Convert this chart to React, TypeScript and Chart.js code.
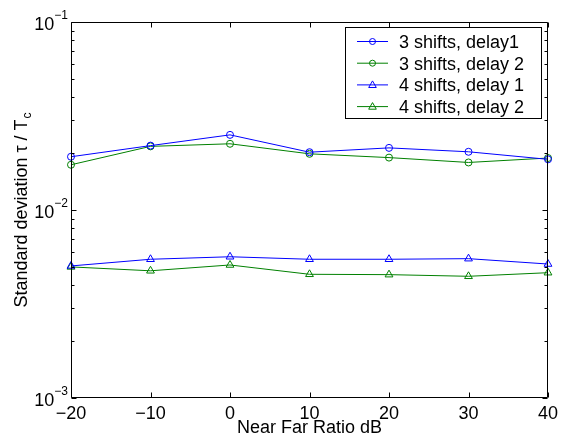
import React, { useEffect, useRef } from "react";
import { Chart, registerables } from "chart.js";

Chart.register(...registerables);

const xValues = [-20, -10, 0, 10, 20, 30, 40];
const shifts3Delay1 = [0.0192, 0.022, 0.0251, 0.0203, 0.0214, 0.0204, 0.0186];
const shifts3Delay2 = [0.0174, 0.0218, 0.0225, 0.0199, 0.019, 0.0179, 0.0189];
const shifts4Delay1 = [0.00504, 0.00547, 0.00564, 0.00547, 0.00547, 0.00551, 0.00516];
const shifts4Delay2 = [0.00498, 0.00475, 0.0051, 0.00455, 0.00453, 0.00444, 0.00464];
const seriesLabels = ["3 shifts, delay1", "3 shifts, delay 2", "4 shifts, delay 1", "4 shifts, delay 2"];
const xTicks = [-20, -10, 0, 10, 20, 30, 40];
const yDecades = [-3, -2, -1];
const xTitle = "Near Far Ratio dB";
const yTitleMain = "Standard deviation τ / T";
const yTitleSub = "c";

const BLUE = "#0000ff";
const GREEN = "#008000";
const FONT = '"Liberation Sans", Arial, Helvetica, sans-serif';

const fmtX = (v: number) => (v < 0 ? "\u2212" + Math.abs(v) : String(v));

function drawMarker(ctx: CanvasRenderingContext2D, style: string, x: number, y: number, r: number, color: string) {
  ctx.save();
  ctx.strokeStyle = color;
  ctx.lineWidth = 1;
  ctx.beginPath();
  if (style === "circle") {
    ctx.arc(x, y, r, 0, Math.PI * 2);
  } else {
    ctx.moveTo(x, y - r);
    ctx.lineTo(x + r * 0.95, y + r * 0.65);
    ctx.lineTo(x - r * 0.95, y + r * 0.65);
    ctx.closePath();
  }
  ctx.stroke();
  ctx.restore();
}

const axesPlugin = {
  id: "matlabAxes",
  afterDraw(chart: any) {
    const { ctx, chartArea } = chart;
    const { left, right, top, bottom } = chartArea;
    const xs = chart.scales.x;
    const ys = chart.scales.y;
    ctx.save();
    ctx.strokeStyle = "#000";
    ctx.lineWidth = 1;
    const L = Math.round(left) + 0.5;
    const R = Math.round(right) - 0.5;
    const T = Math.round(top) + 0.5;
    const B = Math.round(bottom) - 0.5;
    ctx.beginPath();
    ctx.rect(L, T, R - L, B - T);
    ctx.stroke();

    // x ticks
    ctx.beginPath();
    for (const v of xTicks) {
      const px = Math.round(xs.getPixelForValue(v)) + 0.5;
      ctx.moveTo(px, B);
      ctx.lineTo(px, B - 5);
      ctx.moveTo(px, T);
      ctx.lineTo(px, T + 5);
    }
    // y ticks (log)
    for (let i = 0; i < yDecades.length; i++) {
      const d = yDecades[i];
      const maxM = i === yDecades.length - 1 ? 1 : 9;
      for (let m = 1; m <= maxM; m++) {
        const val = m * Math.pow(10, d);
        const py = Math.round(ys.getPixelForValue(val)) + 0.5;
        const len = m === 1 ? 5 : 3;
        ctx.moveTo(L, py);
        ctx.lineTo(L + len, py);
        ctx.moveTo(R, py);
        ctx.lineTo(R - len, py);
      }
    }
    ctx.stroke();

    // x tick labels
    ctx.fillStyle = "#000";
    ctx.font = "18px " + FONT;
    ctx.textAlign = "center";
    ctx.textBaseline = "alphabetic";
    for (const v of xTicks) {
      const px = xs.getPixelForValue(v);
      ctx.fillText(fmtX(v), px, bottom + 21);
    }

    // y tick labels 10^d
    for (const d of yDecades) {
      const py = ys.getPixelForValue(Math.pow(10, d));
      const sup = "\u2212" + Math.abs(d);
      ctx.font = "12px " + FONT;
      const supW = ctx.measureText(sup).width;
      const rightEdge = left - 3;
      ctx.textAlign = "left";
      ctx.fillText(sup, rightEdge - supW, py - 3);
      ctx.font = "18px " + FONT;
      ctx.textAlign = "right";
      ctx.fillText("10", rightEdge - supW, py + 7.5);
    }

    // x title
    ctx.font = "18px " + FONT;
    ctx.textAlign = "center";
    ctx.fillText(xTitle, (left + right) / 2, bottom + 35);

    // y title
    ctx.save();
    ctx.translate(27, (top + bottom) / 2);
    ctx.rotate(-Math.PI / 2);
    ctx.font = "18px " + FONT;
    const wMain = ctx.measureText(yTitleMain).width;
    ctx.font = "12px " + FONT;
    const wSub = ctx.measureText(yTitleSub).width;
    const total = wMain + wSub + 1;
    ctx.textAlign = "left";
    ctx.font = "18px " + FONT;
    ctx.fillText(yTitleMain, -total / 2, 0);
    ctx.font = "12px " + FONT;
    ctx.fillText(yTitleSub, -total / 2 + wMain + 1, 4);
    ctx.restore();

    // legend
    const lx = 345.5, ly = 27.5, lw = 196, lh = 91;
    ctx.fillStyle = "#fff";
    ctx.fillRect(lx, ly, lw, lh);
    ctx.strokeStyle = "#000";
    ctx.strokeRect(lx, ly, lw, lh);
    const ds = chart.data.datasets;
    for (let i = 0; i < ds.length; i++) {
      const cy = 41.5 + i * 21.7;
      ctx.strokeStyle = ds[i].borderColor;
      ctx.beginPath();
      ctx.moveTo(357, cy);
      ctx.lineTo(388, cy);
      ctx.stroke();
      drawMarker(ctx, ds[i].pointStyle, 372.5, cy, ds[i].pointStyle === "circle" ? 3 : 4, ds[i].borderColor);
      ctx.fillStyle = "#000";
      ctx.font = "18px " + FONT;
      ctx.textAlign = "left";
      ctx.fillText(ds[i].label, 399, cy + 6.5);
    }
    ctx.restore();
  },
};

export default function App() {
  const ref = useRef<HTMLCanvasElement | null>(null);
  useEffect(() => {
    if (!ref.current) return;
    const mk = (label: string, vals: number[], color: string, style: string) => ({
      label,
      data: xValues.map((x, i) => ({ x, y: vals[i] })),
      borderColor: color,
      backgroundColor: "transparent",
      borderWidth: 1,
      pointStyle: style,
      pointRadius: style === "circle" ? 3.5 : 4.5,
      pointBorderColor: color,
      pointBackgroundColor: "transparent",
      pointBorderWidth: 1,
      tension: 0,
      clip: false as any,
    });
    const chart = new Chart(ref.current, {
      type: "line",
      data: {
        datasets: [
          mk(seriesLabels[0], shifts3Delay1, BLUE, "circle"),
          mk(seriesLabels[1], shifts3Delay2, GREEN, "circle"),
          mk(seriesLabels[2], shifts4Delay1, BLUE, "triangle"),
          mk(seriesLabels[3], shifts4Delay2, GREEN, "triangle"),
        ] as any,
      },
      options: {
        animation: false,
        responsive: false,
        devicePixelRatio: 1,
        layout: { padding: { left: 71, right: 15, top: 22, bottom: 42 } },
        plugins: { legend: { display: false }, tooltip: { enabled: false } },
        scales: {
          x: { type: "linear", min: -20, max: 40, display: false },
          y: { type: "logarithmic", min: 0.001, max: 0.1, display: false },
        },
      },
      plugins: [axesPlugin],
    });
    return () => chart.destroy();
  }, []);
  return (
    <div style={{ position: "fixed", left: 0, top: 0, width: 563, height: 440, background: "#fff" }}>
      <canvas ref={ref} width={563} height={440} style={{ width: 563, height: 440 }} />
    </div>
  );
}
